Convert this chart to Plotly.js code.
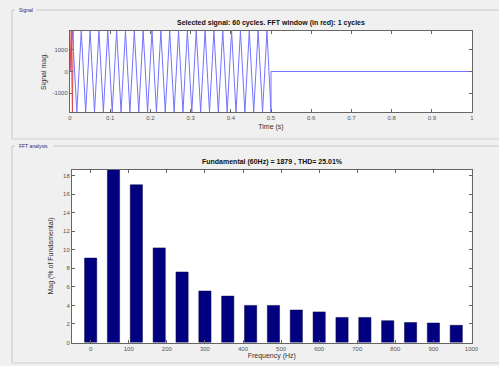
<!DOCTYPE html>
<html>
<head>
<meta charset="utf-8">
<script src="https://cdn.plot.ly/plotly-3.0.1.min.js"></script>
<style>
  html, body { margin: 0; padding: 0; background: #f0f0f0; }
  #chart { width: 499px; height: 366px; }
</style>
</head>
<body>
<div id="chart"></div>
<script>
// ---- Signal panel (vertices) ----
const sigTime = [0.000, 0.006, 0.017, 0.028, 0.039, 0.050, 0.061, 0.072, 0.083, 0.094, 0.105,
  0.116, 0.127, 0.138, 0.149, 0.160, 0.171, 0.182, 0.193, 0.204, 0.215,
  0.226, 0.237, 0.248, 0.259, 0.270, 0.281, 0.292, 0.303, 0.314, 0.325,
  0.336, 0.347, 0.358, 0.369, 0.380, 0.391, 0.402, 0.413, 0.424, 0.435,
  0.446, 0.457, 0.468, 0.479, 0.490, 0.500, 0.500, 1.000];
const sigMag = [0, 1879, -1879, 1879, -1879, 1879, -1879, 1879, -1879, 1879, -1879,
  1879, -1879, 1879, -1879, 1879, -1879, 1879, -1879, 1879, -1879,
  1879, -1879, 1879, -1879, 1879, -1879, 1879, -1879, 1879, -1879,
  1879, -1879, 1879, -1879, 1879, -1879, 1879, -1879, 1879, -1879,
  1879, -1879, 1879, -1879, 1879, -1879, 0, 0];
const winTime = [0.000, 0.003, 0.006, 0.008];
const winMag = [0, 1879, -1879, 1879];
const timeTicks = [0, 0.1, 0.2, 0.3, 0.4, 0.5, 0.6, 0.7, 0.8, 0.9, 1];
const timeTickText = ['0', '0.1', '0.2', '0.3', '0.4', '0.5', '0.6', '0.7', '0.8', '0.9', '1'];
const magTicks = [-1000, 0, 1000];
const magTickText = ['-1000', '0', '1000'];

// ---- FFT panel ----
const freqHz = [0, 60, 120, 180, 240, 300, 360, 420, 480, 540, 600, 660, 720, 780, 840, 900, 960];
const magPct = [9.1, 18.9, 17.0, 10.2, 7.6, 5.55, 5.0, 4.0, 4.0, 3.5, 3.3, 2.7, 2.7, 2.35, 2.15, 2.1, 1.85];
const freqTicks = [0, 100, 200, 300, 400, 500, 600, 700, 800, 900, 1000];
const pctTicks = [0, 2, 4, 6, 8, 10, 12, 14, 16, 18];

const W = 499, H = 366;
const px = v => v / W;
const py = v => 1 - v / H;

const font = { family: 'Liberation Sans, Arial, sans-serif', size: 6, color: '#555' };
const axisCommon = {
  showgrid: false, zeroline: false, showline: true, linecolor: '#666', linewidth: 1,
  mirror: 'ticks', ticks: 'inside', ticklen: 3, tickcolor: '#666', tickwidth: 1,
  tickfont: font, fixedrange: true
};

const traces = [
  { x: sigTime, y: sigMag, type: 'scatter', mode: 'lines', xaxis: 'x', yaxis: 'y',
    line: { color: 'rgb(115,115,255)', width: 1 }, hoverinfo: 'skip' },
  { x: winTime, y: winMag, type: 'scatter', mode: 'lines', xaxis: 'x', yaxis: 'y',
    line: { color: 'rgb(230,70,70)', width: 1 }, hoverinfo: 'skip' },
  { x: freqHz, y: magPct, type: 'bar', xaxis: 'x2', yaxis: 'y2', width: 32,
    marker: { color: '#000080', line: { color: '#000040', width: 0.5 } }, hoverinfo: 'skip' }
];

const titleFont = { family: 'Liberation Sans, Arial, sans-serif', size: 7, color: '#111' };
const axTitleFont = { family: 'Liberation Sans, Arial, sans-serif', size: 7, color: '#333333' };

const layout = {
  width: W, height: H,
  margin: { l: 0, r: 0, t: 0, b: 0 },
  paper_bgcolor: '#f0f0f0', plot_bgcolor: '#ffffff',
  showlegend: false,
  xaxis: Object.assign({}, axisCommon, {
    domain: [px(70), px(472)], range: [0, 1], anchor: 'y',
    tickvals: timeTicks, ticktext: timeTickText,
    title: { text: 'Time (s)', font: axTitleFont, standoff: 3 }
  }),
  yaxis: Object.assign({}, axisCommon, {
    domain: [py(112), py(31)], range: [-1879, 1879], anchor: 'x',
    tickvals: magTicks, ticktext: magTickText,
    title: { text: 'Signal mag.', font: axTitleFont, standoff: 4 }
  }),
  xaxis2: Object.assign({}, axisCommon, {
    domain: [px(72), px(471.5)], range: [-49, 1000], anchor: 'y2',
    tickvals: freqTicks,
    title: { text: 'Frequency (Hz)', font: axTitleFont, standoff: 1 }
  }),
  yaxis2: Object.assign({}, axisCommon, {
    domain: [py(342.5), py(169.5)], range: [0, 18.65], anchor: 'x2',
    tickvals: pctTicks,
    title: { text: 'Mag (% of Fundamental)', font: axTitleFont, standoff: 8 }
  }),
  shapes: [
    // Signal group box
    { type: 'line', xref: 'paper', yref: 'paper', x0: px(12), x1: px(15), y0: py(10), y1: py(10), line: { color: '#c8c8c8', width: 1 } },
    { type: 'line', xref: 'paper', yref: 'paper', x0: px(36), x1: px(499), y0: py(10), y1: py(10), line: { color: '#c8c8c8', width: 1 } },
    { type: 'line', xref: 'paper', yref: 'paper', x0: px(12), x1: px(12), y0: py(10), y1: py(139), line: { color: '#c8c8c8', width: 1 } },
    { type: 'line', xref: 'paper', yref: 'paper', x0: px(12), x1: px(499), y0: py(139), y1: py(139), line: { color: '#d0d0d0', width: 1 } },
    // FFT group box
    { type: 'line', xref: 'paper', yref: 'paper', x0: px(12), x1: px(15), y0: py(146), y1: py(146), line: { color: '#c8c8c8', width: 1 } },
    { type: 'line', xref: 'paper', yref: 'paper', x0: px(53), x1: px(499), y0: py(146), y1: py(146), line: { color: '#c8c8c8', width: 1 } },
    { type: 'line', xref: 'paper', yref: 'paper', x0: px(12), x1: px(12), y0: py(146), y1: py(363), line: { color: '#c8c8c8', width: 1 } },
    { type: 'line', xref: 'paper', yref: 'paper', x0: px(12), x1: px(499), y0: py(363), y1: py(363), line: { color: '#d0d0d0', width: 1 } }
  ],
  annotations: [
    { text: 'Signal', xref: 'paper', yref: 'paper', x: px(17), y: py(10), xanchor: 'left', yanchor: 'middle',
      showarrow: false, font: { family: 'Liberation Sans, Arial, sans-serif', size: 5, color: '#1a2a7a' } },
    { text: 'FFT analysis', xref: 'paper', yref: 'paper', x: px(17), y: py(146), xanchor: 'left', yanchor: 'middle',
      showarrow: false, font: { family: 'Liberation Sans, Arial, sans-serif', size: 5, color: '#1a2a7a' } },
    { text: '<b>Selected signal: 60 cycles. FFT window (in red): 1 cycles</b>', xref: 'paper', yref: 'paper',
      x: px(271), y: py(23), xanchor: 'center', yanchor: 'middle', showarrow: false, font: titleFont },
    { text: '<b>Fundamental (60Hz) = 1879 , THD= 25.01%</b>', xref: 'paper', yref: 'paper',
      x: px(272), y: py(162), xanchor: 'center', yanchor: 'middle', showarrow: false, font: titleFont }
  ]
};

Plotly.newPlot('chart', traces, layout, { staticPlot: true, displayModeBar: false });
</script>
</body>
</html>
